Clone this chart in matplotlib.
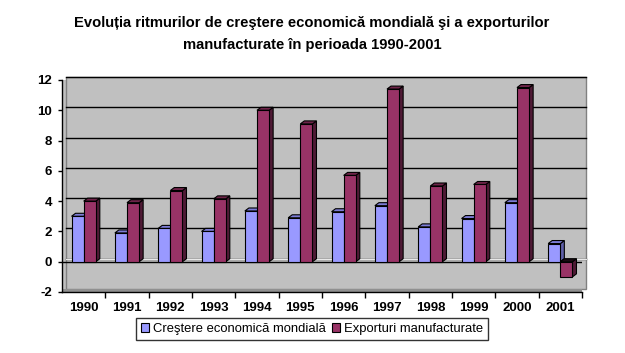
import matplotlib
matplotlib.use('Agg')
import matplotlib.pyplot as plt
import matplotlib.transforms as mtransforms
from matplotlib.patches import Polygon, Rectangle

plt.rcParams['font.family'] = ['Liberation Sans', 'DejaVu Sans']

years = ['1990', '1991', '1992', '1993', '1994', '1995',
         '1996', '1997', '1998', '1999', '2000', '2001']
crestere = [3.0, 1.9, 2.2, 2.0, 3.35, 2.9, 3.3, 3.7, 2.3, 2.85, 3.9, 1.2]
exporturi = [4.0, 3.9, 4.7, 4.15, 10.0, 9.1, 5.7, 11.4, 5.0, 5.1, 11.5, -1.0]
yticks = [-2, 0, 2, 4, 6, 8, 10, 12]

title = ('Evoluția ritmurilor de creştere economică mondială şi a exporturilor\n'
         'manufacturate în perioada 1990-2001')

# colours: front, side, top
blue = ('#9999FF', '#5F5FA8', '#7C7CD6')
red = ('#993366', '#4F1A35', '#6E2449')

fig = plt.figure(figsize=(6.25, 3.53), dpi=100)
ax = fig.add_axes([62/625, 61/353, 520/625, 212/353])
ax.set_xlim(-0.5, len(years) - 0.5)
ax.set_ylim(-2, 12)
ax.set_facecolor('#C0C0C0')

# 3D depth
off_px, off_py = 4, 3
back = mtransforms.offset_copy(ax.transAxes, fig, x=off_px, y=off_py, units='dots')
back_y = mtransforms.offset_copy(ax.get_yaxis_transform(), fig, x=off_px, y=off_py, units='dots')

# back wall
ax.add_patch(Rectangle((0, 0), 1, 1, transform=back, facecolor='#C0C0C0',
                       edgecolor='#808080', lw=1, zorder=0, clip_on=False))
# floor strip at bottom
ax.add_patch(Rectangle((0, 0), 1, 0.014, transform=ax.transAxes, facecolor='#909090',
                       edgecolor='none', zorder=0.6, clip_on=False))

# gridlines on back wall
for t in yticks[1:]:
    ax.plot([0, 1], [t, t], color='black', lw=1, transform=back_y, zorder=1, clip_on=False)
# floor at zero
ax.plot([0, 1], [0, 0], color='#E8E8E8', lw=1, transform=back_y, zorder=1.1, clip_on=False)
ax.axhline(0, color='black', lw=1, zorder=1.2)

# bars
w = 0.28
x_pos = list(range(len(years)))
px_per_x = 520 / len(years)
px_per_y = 212 / 14
dx = off_px / px_per_x
dy = off_py / px_per_y

z = 2
for i in x_pos:
    for j, (vals, col) in enumerate(((crestere, blue), (exporturi, red))):
        h = vals[i]
        x0 = i - w + j * w
        x1 = x0 + w
        top = max(h, 0)
        bot = min(h, 0)
        ax.add_patch(Polygon([(x1, bot), (x1, top), (x1 + dx, top + dy), (x1 + dx, bot + dy)],
                             closed=True, facecolor=col[1], edgecolor='black', lw=0.8, zorder=z))
        ax.add_patch(Polygon([(x0, top), (x1, top), (x1 + dx, top + dy), (x0 + dx, top + dy)],
                             closed=True, facecolor=col[2] if h > 0 else '#1A0A12',
                             edgecolor='black', lw=0.8, zorder=z))
        ax.bar(x0, h, width=w, align='edge', color=col[0], edgecolor='black', lw=0.8, zorder=z + 0.5)
        z += 1

# axes styling
for s in ['top', 'right']:
    ax.spines[s].set_visible(False)
ax.spines['left'].set_linewidth(1)
ax.spines['bottom'].set_linewidth(1)
ax.spines['left'].set_zorder(100)
ax.spines['bottom'].set_zorder(100)

ax.set_yticks(yticks)
ax.set_yticklabels([str(t) for t in yticks], fontsize=9.5, fontweight='bold')
ax.tick_params(axis='y', length=3, width=1, pad=4)

ax.set_xticks(x_pos)
ax.set_xticklabels(years, fontsize=9.5, fontweight='bold')
ax.tick_params(axis='x', which='major', length=0, pad=7)
ax.set_xticks([i - 0.5 for i in range(1, len(years) + 1)], minor=True)
ax.tick_params(axis='x', which='minor', length=4, width=1)

fig.text(312/625, 1 - 34/353, title, ha='center', va='center', fontsize=10.6,
         fontweight='bold', linespacing=1.75)

handles = [Rectangle((0, 0), 1, 1, facecolor=blue[0], edgecolor='black', lw=0.8),
           Rectangle((0, 0), 1, 1, facecolor=red[0], edgecolor='black', lw=0.8)]
leg = fig.legend(handles, ['Creştere economică mondială', 'Exporturi manufacturate'],
                 loc='center', bbox_to_anchor=(312/625, 1 - 329/353), ncol=2,
                 fontsize=9.4, frameon=True, fancybox=False, handlelength=0.6,
                 handleheight=0.6, handletextpad=0.3, columnspacing=0.5,
                 borderpad=0.35, borderaxespad=0)
leg.get_frame().set_edgecolor('black')
leg.get_frame().set_linewidth(1)

fig.savefig('out.png', dpi=100)
